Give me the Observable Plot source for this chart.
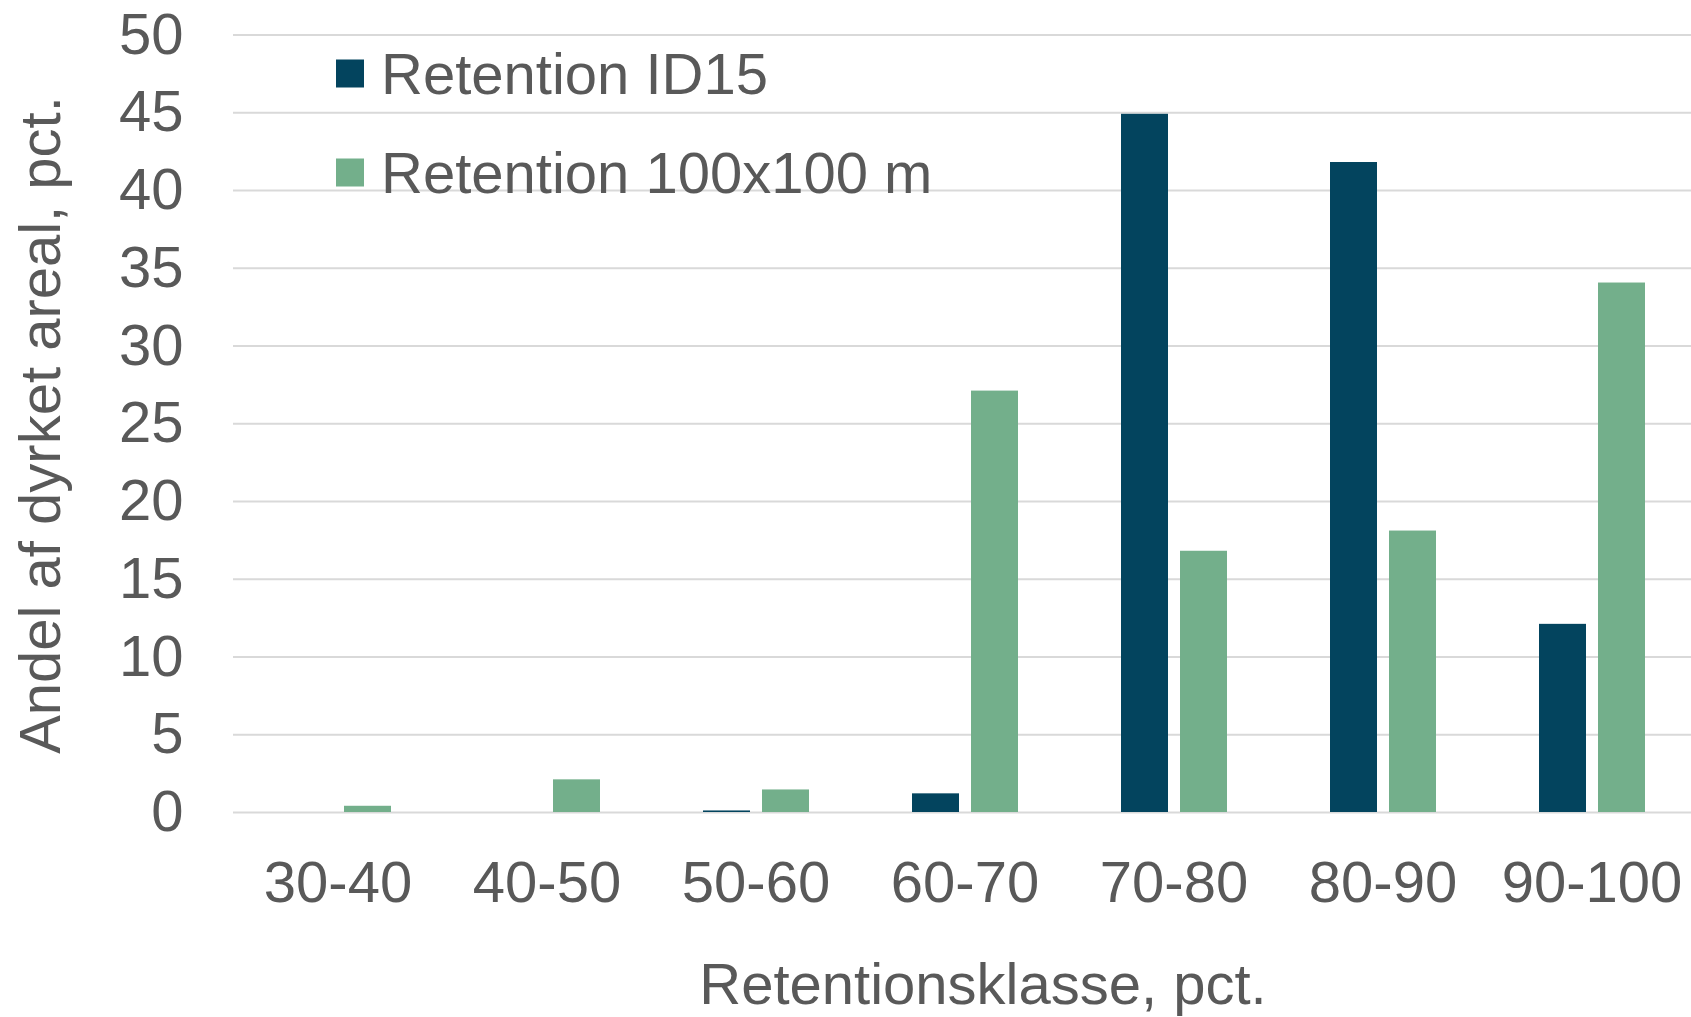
<!DOCTYPE html>
<html><head><meta charset="utf-8">
<script src="https://cdn.jsdelivr.net/npm/d3@7"></script>
<script src="https://cdn.jsdelivr.net/npm/@observablehq/plot@0.6"></script>
<style>
html,body{margin:0;padding:0;background:#fff;overflow:hidden;}
#chart{position:relative;width:1691px;height:1017px;}
</style></head><body><div id="chart"></div>
<script>
const categories = ["30-40","40-50","50-60","60-70","70-80","80-90","90-100"];
const seriesNames = ["Retention ID15","Retention 100x100 m"];
const id15 = [0, 0, 0.1, 1.2, 44.9, 41.8, 12.1];
const grid100 = [0.4, 2.1, 1.45, 27.1, 16.8, 18.1, 34.05];
const yTicks = [0,5,10,15,20,25,30,35,40,45,50];
const colors = ["#03445E","#73AF8B"];
const xTitle = "Retentionsklasse, pct.";
const yTitle = "Andel af dyrket areal, pct.";

const data = categories.flatMap((c,i)=>[
  {category:c, series:seriesNames[0], value:id15[i]},
  {category:c, series:seriesNames[1], value:grid100[i]}
]);

const font = '"Liberation Sans", Arial, sans-serif';
const textColor = "#595959";

const plot = Plot.plot({
  width:1691, height:1017,
  marginTop:34.5, marginBottom:205, marginLeft:230, marginRight:-8.5,
  style:{fontFamily:font, fontSize:"58px", color:textColor, background:"#fff", overflow:"visible"},
  fx:{domain:categories, padding:0, label:null, axis:null},
  x:{domain:seriesNames, paddingInner:0.21, paddingOuter:0.86, axis:null},
  y:{domain:[0,50], ticks:yTicks},
  color:{domain:seriesNames, range:colors},
  marks:[
    Plot.gridY(yTicks, {stroke:"#d9d9d9", strokeOpacity:1, strokeWidth:2}),
    Plot.barY(data, {fx:"category", x:"series", y:"value", fill:"series"}),
    Plot.axisY(yTicks, {tickSize:0, tickPadding:50, label:null, fill:textColor, fontSize:58}),
    Plot.axisFx({anchor:"bottom", tickSize:0, tickPadding:48, label:null, fill:textColor, fontSize:58})
  ]
});
document.getElementById("chart").appendChild(plot);

const svg = d3.select(plot);
svg.append("text")
  .attr("x",983).attr("y",1004).attr("text-anchor","middle")
  .attr("fill",textColor).style("font-size","58px").style("font-family",font)
  .text(xTitle);
svg.append("text")
  .attr("transform","translate(60,425) rotate(-90)").attr("text-anchor","middle")
  .attr("fill",textColor).style("font-size","58px").style("font-family",font)
  .text(yTitle);
const leg = svg.append("g").attr("text-anchor","start");
seriesNames.forEach((s,i)=>{
  const cy = 73.5 + i*99;
  leg.append("rect").attr("x",336).attr("y",cy-14).attr("width",28).attr("height",28).attr("fill",colors[i]);
  leg.append("text").attr("x",381).attr("y",cy+20.8).attr("text-anchor","start")
    .attr("fill",textColor).style("font-size","58px").style("font-family",font).text(s);
});
</script></body></html>
